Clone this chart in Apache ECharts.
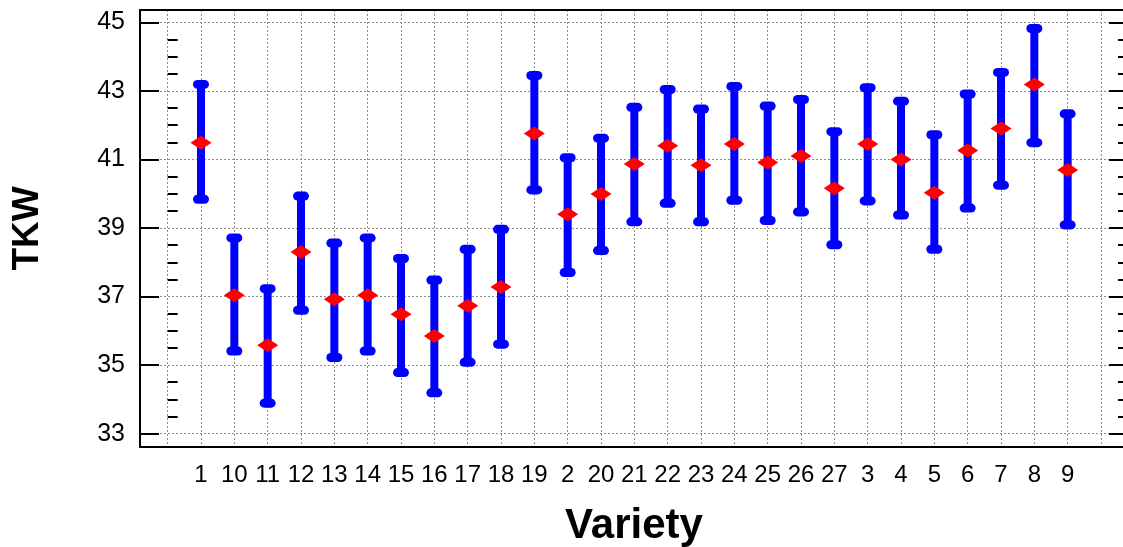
<!DOCTYPE html>
<html>
<head>
<meta charset="utf-8">
<style>
  html, body { margin: 0; padding: 0; background: #fff; }
  #chart { width: 1123px; height: 547px; }
</style>
<script src="https://cdn.jsdelivr.net/npm/echarts@6/dist/echarts.min.js"></script>
</head>
<body>
<div id="chart"></div>
<script>
const categories = ['1','10','11','12','13','14','15','16','17','18','19','2','20','21','22','23','24','25','26','27','3','4','5','6','7','8','9'];
const means = [41.49,37.04,35.58,38.30,36.92,37.04,36.48,35.85,36.73,37.28,41.76,39.40,39.99,40.87,41.40,40.83,41.45,40.91,41.10,40.16,41.45,41.00,40.03,41.26,41.90,43.19,40.69];
const highs = [43.19,38.71,37.23,39.93,38.56,38.71,38.11,37.48,38.38,38.96,43.45,41.05,41.62,42.52,43.04,42.47,43.13,42.56,42.75,41.81,43.09,42.70,41.72,42.91,43.54,44.82,42.33];
const lows  = [39.84,35.41,33.89,36.60,35.22,35.41,34.78,34.19,35.08,35.61,40.11,37.70,38.34,39.18,39.72,39.18,39.81,39.22,39.47,38.51,39.79,39.38,38.38,39.58,40.25,41.49,39.09];
const yMajorTicks = [33,35,37,39,41,43,45];
const yMinorTicks = [33.5,34,34.5,35.5,36,36.5,37.5,38,38.5,39.5,40,40.5,41.5,42,42.5,43.5,44,44.5];

const xGridValues = [];
for (let i = 0; i <= categories.length + 1; i++) xGridValues.push(i);
const xLabelValues = categories.map((c, i) => i + 1);

const FONT = '"Liberation Sans", Arial, Helvetica, sans-serif';
const X_MIN = -0.83, X_MAX = 28.81;
const Y_MIN = 32.61, Y_MAX = 45.36;

const barData = categories.map((c, i) => [i + 1, lows[i], highs[i]]);
const meanData = categories.map((c, i) => [i + 1, means[i]]);

const chart = echarts.init(document.getElementById('chart'), null, { renderer: 'canvas' });

const gridDotted = { show: true, lineStyle: { color: '#8c8c8c', width: 1, type: [2, 2] } };
const gridRect = { left: 140, right: -5, top: 10, bottom: 100, containLabel: false, outerBoundsMode: 'none' };

chart.setOption({
  animation: false,
  backgroundColor: '#ffffff',
  grid: [ Object.assign({}, gridRect), Object.assign({}, gridRect) ],
  xAxis: [
    {
      gridIndex: 0, type: 'value', position: 'bottom', min: X_MIN, max: X_MAX,
      name: 'Variety', nameLocation: 'middle', nameGap: 58,
      nameTextStyle: { fontFamily: FONT, fontSize: 42, fontWeight: 'bold', color: '#000' },
      axisLine: { show: true, onZero: false, lineStyle: { color: '#000', width: 2 } },
      axisTick: { show: false, customValues: xGridValues },
      axisLabel: {
        customValues: xLabelValues, margin: 16,
        fontFamily: FONT, fontSize: 24, color: '#000',
        formatter: v => categories[Math.round(v) - 1] || ''
      },
      splitLine: gridDotted
    },
    {
      gridIndex: 0, type: 'value', position: 'top', min: X_MIN, max: X_MAX,
      axisLine: { show: true, onZero: false, lineStyle: { color: '#000', width: 2 } },
      axisTick: { show: false }, axisLabel: { show: false }, splitLine: { show: false }
    },
    {
      gridIndex: 1, type: 'value', position: 'bottom', min: X_MIN, max: X_MAX, show: false
    }
  ],
  yAxis: [
    {
      gridIndex: 0, type: 'value', position: 'left', min: Y_MIN, max: Y_MAX,
      name: 'TKW', nameLocation: 'middle', nameGap: 94, nameRotate: 90,
      nameTextStyle: { fontFamily: FONT, fontSize: 37, fontWeight: 'bold', color: '#000' },
      axisLine: { show: true, onZero: false, lineStyle: { color: '#000', width: 2 } },
      axisTick: { show: true, inside: true, length: 19, customValues: yMajorTicks, lineStyle: { color: '#000', width: 2 } },
      axisLabel: { customValues: yMajorTicks, margin: 15, fontFamily: FONT, fontSize: 25, color: '#000' },
      splitLine: gridDotted
    },
    {
      gridIndex: 0, type: 'value', position: 'right', min: Y_MIN, max: Y_MAX,
      axisLine: { show: true, onZero: false, lineStyle: { color: '#000', width: 2 } },
      axisTick: { show: true, inside: true, length: 19, customValues: yMajorTicks, lineStyle: { color: '#000', width: 2 } },
      axisLabel: { show: false }, splitLine: { show: false }
    },
    {
      gridIndex: 1, type: 'value', position: 'left', min: Y_MIN, max: Y_MAX,
      axisLine: { show: false },
      axisTick: { show: true, inside: true, length: 10, customValues: yMinorTicks, lineStyle: { color: '#000', width: 2 } },
      axisLabel: { show: false }, splitLine: { show: false }
    },
    {
      gridIndex: 1, type: 'value', position: 'right', min: Y_MIN, max: Y_MAX,
      axisLine: { show: false },
      axisTick: { show: true, inside: true, length: 10, customValues: yMinorTicks, lineStyle: { color: '#000', width: 2 } },
      axisLabel: { show: false }, splitLine: { show: false }
    }
  ],
  series: [
    {
      type: 'custom', xAxisIndex: 0, yAxisIndex: 0, z: 3,
      encode: { x: 0, y: [1, 2] },
      data: barData,
      renderItem: function (params, api) {
        const x = api.value(0);
        const lo = api.coord([x, api.value(1)]);
        const hi = api.coord([x, api.value(2)]);
        const capStyle = { stroke: '#0000ff', lineWidth: 9, lineCap: 'round', fill: null };
        return {
          type: 'group',
          children: [
            { type: 'line', shape: { x1: lo[0], y1: lo[1], x2: hi[0], y2: hi[1] }, style: { stroke: '#0000ff', lineWidth: 8, lineCap: 'butt' } },
            { type: 'line', shape: { x1: hi[0] - 3.5, y1: hi[1], x2: hi[0] + 3.5, y2: hi[1] }, style: capStyle },
            { type: 'line', shape: { x1: lo[0] - 3.5, y1: lo[1], x2: lo[0] + 3.5, y2: lo[1] }, style: capStyle }
          ]
        };
      }
    },
    {
      type: 'scatter', xAxisIndex: 0, yAxisIndex: 0, z: 4,
      symbol: 'diamond', symbolSize: [21, 14],
      itemStyle: { color: '#ff0000', opacity: 1 },
      data: meanData
    }
  ]
});
</script>
</body>
</html>
